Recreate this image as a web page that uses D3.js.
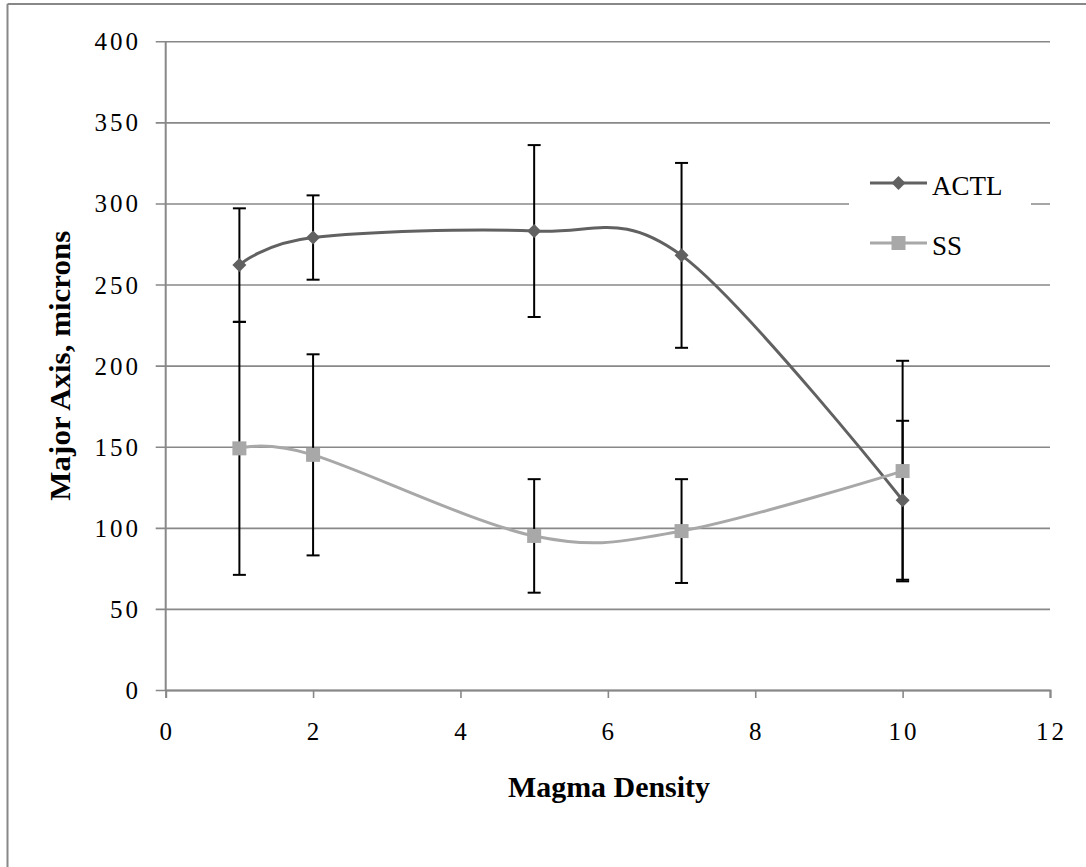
<!DOCTYPE html>
<html>
<head>
<meta charset="utf-8">
<script src="https://cdn.jsdelivr.net/npm/d3@7"></script>
<style>
  html, body { margin: 0; padding: 0; background: #fff; }
  svg { display: block; }
  text { font-family: "Liberation Serif", "Times New Roman", serif; fill: #000; }
</style>
</head>
<body>
<svg id="chart" width="1086" height="867"></svg>
<script>
// Magma density measurements
const densities = [1, 2, 5, 7, 10];
const actlMean  = [262, 279, 283, 268, 117];
const actlErr   = [35, 26, 53, 57, 49];
const ssMean    = [149, 145, 95, 98, 135];
const ssErr     = [78, 62, 35, 32, 68];
const seriesNames = ["ACTL", "SS"];
const xTicks = [0, 2, 4, 6, 8, 10, 12];
const yTicks = [0, 50, 100, 150, 200, 250, 300, 350, 400];

const svg = d3.select("#chart");
const W = 1086, H = 867;
const plot = { left: 165.7, top: 41.3, right: 1050, bottom: 690 };

const x = d3.scaleLinear().domain([0, 12]).range([plot.left, plot.right]);
const y = d3.scaleLinear().domain([0, 400]).range([plot.bottom, plot.top]);

const gridColor = "#888";

// outer frame (top and left edges)
svg.append("line").attr("x1", 7.5).attr("x2", W).attr("y1", 4).attr("y2", 4)
  .attr("stroke", gridColor).attr("stroke-width", 2);
svg.append("line").attr("x1", 7.5).attr("x2", 7.5).attr("y1", 4).attr("y2", H)
  .attr("stroke", gridColor).attr("stroke-width", 2);

// horizontal gridlines with left tick stubs
svg.append("g")
  .attr("transform", `translate(${plot.left},0)`)
  .call(d3.axisLeft(y).tickValues(yTicks).tickSize(-(plot.right - plot.left)).tickFormat(""))
  .call(g => g.select(".domain").remove())
  .call(g => g.selectAll(".tick line").attr("stroke", gridColor).attr("stroke-width", 1.6).attr("x1", -10));

// y axis line
svg.append("line").attr("x1", plot.left).attr("x2", plot.left)
  .attr("y1", plot.top).attr("y2", plot.bottom)
  .attr("stroke", gridColor).attr("stroke-width", 2);

// x axis with downward ticks
const xAxis = svg.append("g")
  .attr("transform", `translate(0,${plot.bottom})`)
  .call(d3.axisBottom(x).tickValues(xTicks).tickSize(8).tickFormat(""));
xAxis.select(".domain").attr("stroke", gridColor).attr("stroke-width", 2);
xAxis.selectAll(".tick line").attr("stroke", gridColor).attr("stroke-width", 1.6);

// y tick labels
svg.append("g").selectAll("text").data(yTicks).join("text")
  .attr("x", 141)
  .attr("y", d => y(d) + 9)
  .attr("text-anchor", "end")
  .attr("font-size", 25)
  .attr("letter-spacing", 3)
  .text(d => d);

// x tick labels
svg.append("g").selectAll("text").data(xTicks).join("text")
  .attr("x", d => x(d) + 1.5)
  .attr("y", 740)
  .attr("text-anchor", "middle")
  .attr("font-size", 25)
  .attr("letter-spacing", 3)
  .text(d => d);

// axis titles
svg.append("text")
  .attr("transform", `translate(70,${(plot.top + plot.bottom) / 2}) rotate(-90)`)
  .attr("text-anchor", "middle")
  .attr("font-size", 29)
  .attr("font-weight", "bold")
  .attr("textLength", 270)
  .attr("lengthAdjust", "spacingAndGlyphs")
  .text("Major Axis, microns");

svg.append("text")
  .attr("x", 609)
  .attr("y", 797)
  .attr("text-anchor", "middle")
  .attr("font-size", 29)
  .attr("font-weight", "bold")
  .attr("textLength", 202)
  .attr("lengthAdjust", "spacingAndGlyphs")
  .text("Magma Density");

const series = [
  { name: seriesNames[0], mean: actlMean, err: actlErr, color: "#616161", marker: "diamond" },
  { name: seriesNames[1], mean: ssMean, err: ssErr, color: "#a8a8a8", marker: "square" }
];

const line = d3.line()
  .x((d, i) => x(densities[i]))
  .y(d => y(d))
  .curve(d3.curveCardinal.tension(0));

const drawMarker = (g, s, cx, cy) => {
  if (s.marker === "diamond") {
    g.append("path")
      .attr("d", `M${cx},${cy - 7}L${cx + 7},${cy}L${cx},${cy + 7}L${cx - 7},${cy}Z`)
      .attr("fill", s.color);
  } else {
    g.append("rect")
      .attr("x", cx - 7).attr("y", cy - 7).attr("width", 14).attr("height", 14)
      .attr("fill", s.color);
  }
};

// smoothed series lines
series.forEach(s => {
  svg.append("path")
    .attr("d", line(s.mean))
    .attr("fill", "none")
    .attr("stroke", s.color)
    .attr("stroke-width", 3);
});

// error bars
series.forEach(s => {
  const g = svg.append("g");
  s.mean.forEach((m, i) => {
    const cx = x(densities[i]);
    const hi = y(m + s.err[i]), lo = y(m - s.err[i]);
    g.append("line").attr("x1", cx).attr("x2", cx).attr("y1", hi).attr("y2", lo)
      .attr("stroke", "#000").attr("stroke-width", 2);
    [hi, lo].forEach(cy => g.append("line")
      .attr("x1", cx - 6.5).attr("x2", cx + 6.5).attr("y1", cy).attr("y2", cy)
      .attr("stroke", "#000").attr("stroke-width", 2));
  });
});

// markers
series.forEach(s => {
  const g = svg.append("g");
  s.mean.forEach((m, i) => drawMarker(g, s, x(densities[i]), y(m)));
});

// legend
const legend = svg.append("g");
legend.append("rect")
  .attr("x", 849).attr("y", 150).attr("width", 182).attr("height", 118)
  .attr("fill", "#fff");
series.forEach((s, i) => {
  const ly = 183 + i * 60;
  legend.append("line").attr("x1", 870).attr("x2", 927).attr("y1", ly).attr("y2", ly)
    .attr("stroke", s.color).attr("stroke-width", 3);
  drawMarker(legend, s, 898.5, ly);
  legend.append("text")
    .attr("x", 932).attr("y", ly + 12)
    .attr("font-size", 27)
    .text(s.name);
});
</script>
</body>
</html>
